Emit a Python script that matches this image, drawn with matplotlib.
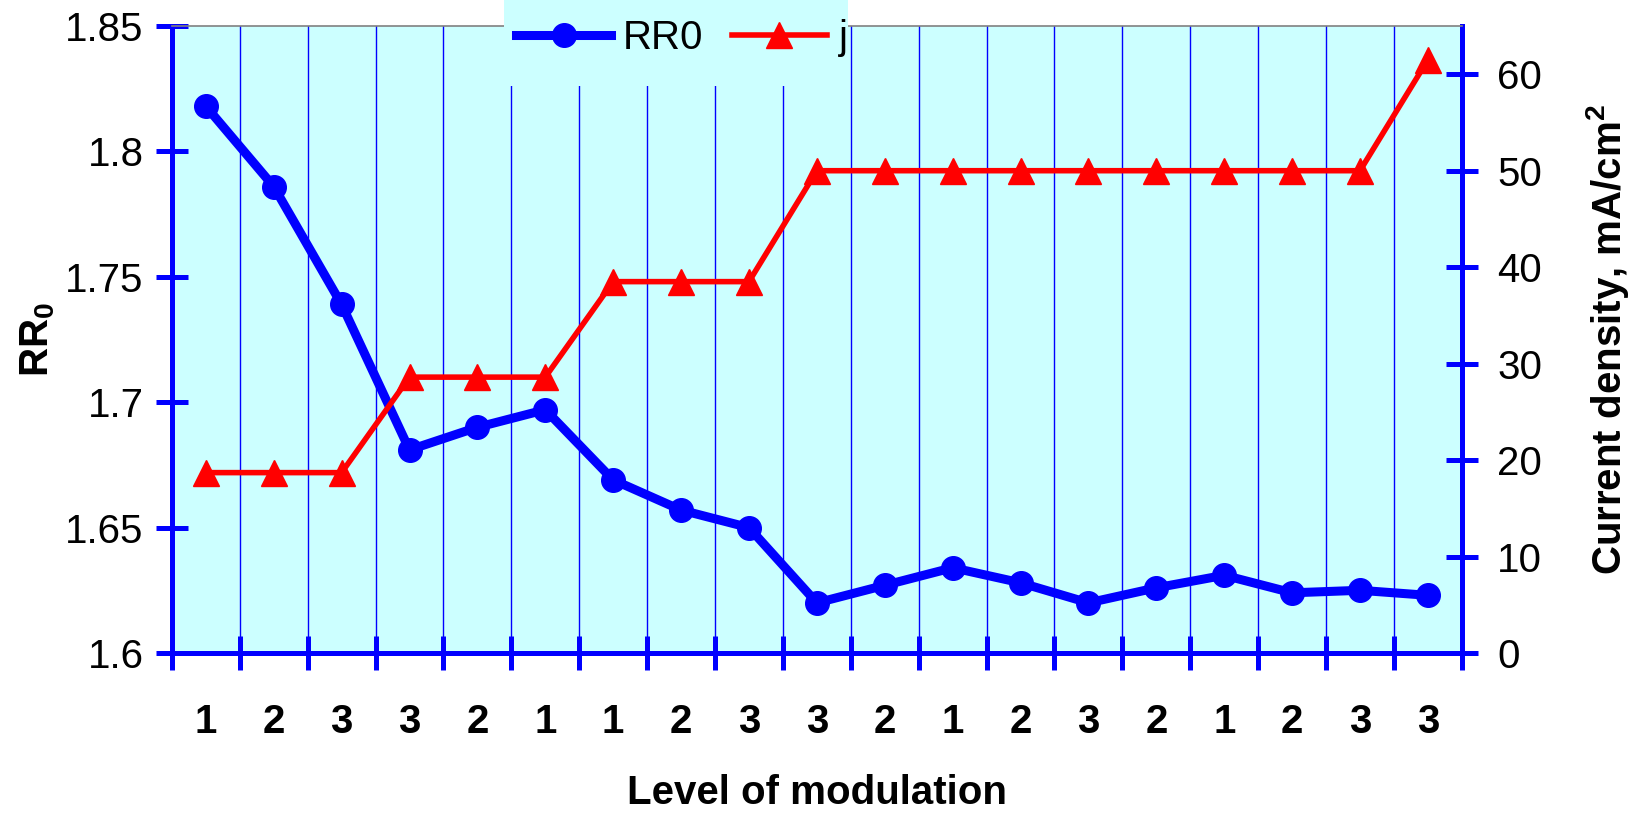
import numpy as np
import matplotlib
matplotlib.use('Agg')
import matplotlib.pyplot as plt
from matplotlib.patches import Rectangle

plt.rcParams['font.family'] = ['Liberation Sans', 'DejaVu Sans']
plt.rcParams['mathtext.default'] = 'regular'

# data
levels = ['1', '2', '3', '3', '2', '1', '1', '2', '3', '3',
          '2', '1', '2', '3', '2', '1', '2', '3', '3']
rr0 = [1.818, 1.786, 1.739, 1.681, 1.690, 1.697, 1.669, 1.657, 1.650, 1.620,
       1.627, 1.634, 1.628, 1.620, 1.626, 1.631, 1.624, 1.625, 1.623]
j = [18.7, 18.7, 18.7, 28.6, 28.6, 28.6, 38.5, 38.5, 38.5, 50,
     50, 50, 50, 50, 50, 50, 50, 50, 61.5]

BLUE = '#0000FF'
RED = '#FF0000'
BG = '#CCFFFF'
FS = 29

fig = plt.figure(figsize=(16.37, 8.18), dpi=100)
ax = fig.add_axes([0.105, 0.2017, 0.788, 0.7665])
ax.set_facecolor(BG)
ax2 = ax.twinx()

x = np.arange(len(levels))
l1, = ax.plot(x, rr0, color=BLUE, lw=6.5, marker='o', ms=17, zorder=4,
              solid_joinstyle='round', label='RR0')
l2, = ax2.plot(x, j, color=RED, lw=4, marker='^', ms=19, zorder=4,
               label='j')

ax.set_xlim(-0.5, len(levels) - 0.5)
ax.set_ylim(1.6, 1.85)
ax.set_yticks([1.6, 1.65, 1.7, 1.75, 1.8, 1.85])
ax.set_yticklabels(['1.6', '1.65', '1.7', '1.75', '1.8', '1.85'])
ax2.set_ylim(0, 65)
ax2.set_yticks(np.arange(0, 61, 10))

# category boundaries carry the ticks and grid, centers carry the labels
ax.set_xticks(np.arange(-0.5, len(levels), 1.0))
ax.set_xticklabels([])
ax.set_xticks(x, minor=True)
ax.set_xticklabels(levels, minor=True, fontsize=FS, fontweight='bold')
ax.tick_params(axis='x', which='minor', length=0, pad=36)
ax.tick_params(axis='x', which='major', direction='inout', length=24,
               width=3.6, color=BLUE)
ax.grid(axis='x', which='major', color=BLUE, lw=1.0)
ax.set_axisbelow(True)

ax.tick_params(axis='y', direction='inout', length=23, width=3.6,
               color=BLUE, labelsize=FS, pad=9)
ax2.tick_params(axis='y', direction='inout', length=23, width=3.6,
                color=BLUE, labelsize=FS, pad=14)

for a in (ax, ax2):
    for s in ('left', 'right', 'bottom'):
        a.spines[s].set_color(BLUE)
        a.spines[s].set_linewidth(3.6)
    a.spines['top'].set_color('#808080')
    a.spines['top'].set_linewidth(1.2)
ax.spines['top'].set_visible(False)

ax.set_xlabel('Level of modulation', fontsize=FS, fontweight='bold',
              labelpad=24)
ax.set_ylabel('RR$_0$', fontsize=FS, fontweight='bold', labelpad=6)
ax2.set_ylabel('Current density, mA/cm$^2$', fontsize=FS,
               fontweight='bold', labelpad=30)

# legend box: cyan panel sitting over the top of the plot
fig.patches.append(Rectangle((0.308, 0.895), 0.21, 0.11,
                             transform=fig.transFigure, facecolor=BG,
                             edgecolor='none', zorder=4))
leg = fig.legend(handles=[l1, l2], loc='center left',
                 bbox_to_anchor=(0.3155, 0.953), ncol=2, fontsize=FS,
                 frameon=False, numpoints=1, handlelength=2.35,
                 handletextpad=0.3, columnspacing=0.7, borderpad=0,
                 borderaxespad=0)
leg.set_zorder(5)

fig.savefig('out.png', dpi=100)
